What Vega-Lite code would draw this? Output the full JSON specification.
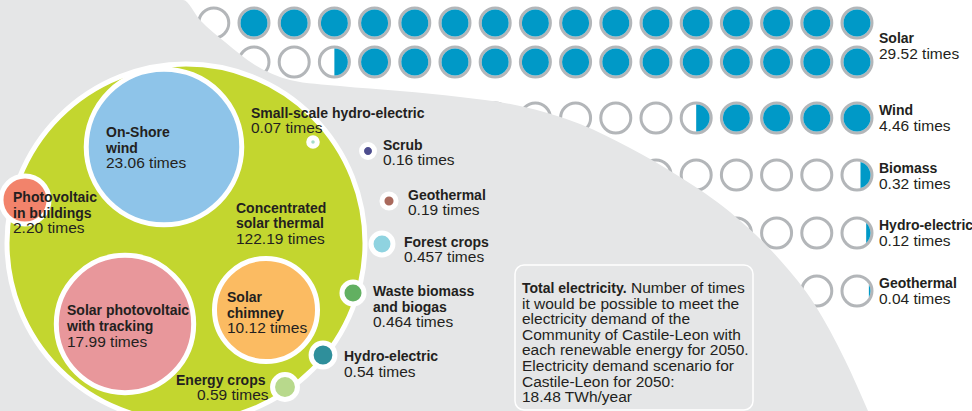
{
  "$schema": "https://vega.github.io/schema/vega-lite/v6.json",
  "width": 972,
  "height": 411,
  "autosize": {"type": "none"},
  "padding": 0,
  "background": "#ffffff",
  "config": {"view": {"stroke": null}},
  "datasets": {
    "grid": [
      {"r": "Solar1", "y": 23, "c": 0, "f": "full"}, {"r": "Solar1", "y": 23, "c": 1, "f": "full"}, {"r": "Solar1", "y": 23, "c": 2, "f": "full"}, {"r": "Solar1", "y": 23, "c": 3, "f": "full"}, {"r": "Solar1", "y": 23, "c": 4, "f": "full"}, {"r": "Solar1", "y": 23, "c": 5, "f": "full"}, {"r": "Solar1", "y": 23, "c": 6, "f": "full"}, {"r": "Solar1", "y": 23, "c": 7, "f": "full"}, {"r": "Solar1", "y": 23, "c": 8, "f": "full"}, {"r": "Solar1", "y": 23, "c": 9, "f": "full"}, {"r": "Solar1", "y": 23, "c": 10, "f": "full"}, {"r": "Solar1", "y": 23, "c": 11, "f": "full"}, {"r": "Solar1", "y": 23, "c": 12, "f": "full"}, {"r": "Solar1", "y": 23, "c": 13, "f": "full"}, {"r": "Solar1", "y": 23, "c": 14, "f": "full"}, {"r": "Solar1", "y": 23, "c": 15, "f": "full"}, {"r": "Solar1", "y": 23, "c": 16, "f": "none"},
      {"r": "Solar2", "y": 62, "c": 0, "f": "full"}, {"r": "Solar2", "y": 62, "c": 1, "f": "full"}, {"r": "Solar2", "y": 62, "c": 2, "f": "full"}, {"r": "Solar2", "y": 62, "c": 3, "f": "full"}, {"r": "Solar2", "y": 62, "c": 4, "f": "full"}, {"r": "Solar2", "y": 62, "c": 5, "f": "full"}, {"r": "Solar2", "y": 62, "c": 6, "f": "full"}, {"r": "Solar2", "y": 62, "c": 7, "f": "full"}, {"r": "Solar2", "y": 62, "c": 8, "f": "full"}, {"r": "Solar2", "y": 62, "c": 9, "f": "full"}, {"r": "Solar2", "y": 62, "c": 10, "f": "full"}, {"r": "Solar2", "y": 62, "c": 11, "f": "full"}, {"r": "Solar2", "y": 62, "c": 12, "f": "full"}, {"r": "Solar2", "y": 62, "c": 13, "f": "half"}, {"r": "Solar2", "y": 62, "c": 14, "f": "none"}, {"r": "Solar2", "y": 62, "c": 15, "f": "none"}, {"r": "Solar2", "y": 62, "c": 16, "f": "none"},
      {"r": "Wind", "y": 118, "c": 0, "f": "full"}, {"r": "Wind", "y": 118, "c": 1, "f": "full"}, {"r": "Wind", "y": 118, "c": 2, "f": "full"}, {"r": "Wind", "y": 118, "c": 3, "f": "full"}, {"r": "Wind", "y": 118, "c": 4, "f": "half"}, {"r": "Wind", "y": 118, "c": 5, "f": "none"}, {"r": "Wind", "y": 118, "c": 6, "f": "none"}, {"r": "Wind", "y": 118, "c": 7, "f": "none"}, {"r": "Wind", "y": 118, "c": 8, "f": "none"}, {"r": "Wind", "y": 118, "c": 9, "f": "none"}, {"r": "Wind", "y": 118, "c": 10, "f": "none"}, {"r": "Wind", "y": 118, "c": 11, "f": "none"}, {"r": "Wind", "y": 118, "c": 12, "f": "none"}, {"r": "Wind", "y": 118, "c": 13, "f": "none"}, {"r": "Wind", "y": 118, "c": 14, "f": "none"}, {"r": "Wind", "y": 118, "c": 15, "f": "none"}, {"r": "Wind", "y": 118, "c": 16, "f": "none"},
      {"r": "Biomass", "y": 175, "c": 0, "f": "f37"}, {"r": "Biomass", "y": 175, "c": 1, "f": "none"}, {"r": "Biomass", "y": 175, "c": 2, "f": "none"}, {"r": "Biomass", "y": 175, "c": 3, "f": "none"}, {"r": "Biomass", "y": 175, "c": 4, "f": "none"}, {"r": "Biomass", "y": 175, "c": 5, "f": "none"}, {"r": "Biomass", "y": 175, "c": 6, "f": "none"}, {"r": "Biomass", "y": 175, "c": 7, "f": "none"}, {"r": "Biomass", "y": 175, "c": 8, "f": "none"}, {"r": "Biomass", "y": 175, "c": 9, "f": "none"}, {"r": "Biomass", "y": 175, "c": 10, "f": "none"}, {"r": "Biomass", "y": 175, "c": 11, "f": "none"},
      {"r": "Hydro", "y": 233, "c": 0, "f": "f16"}, {"r": "Hydro", "y": 233, "c": 1, "f": "none"}, {"r": "Hydro", "y": 233, "c": 2, "f": "none"}, {"r": "Hydro", "y": 233, "c": 3, "f": "none"}, {"r": "Hydro", "y": 233, "c": 4, "f": "none"}, {"r": "Hydro", "y": 233, "c": 5, "f": "none"}, {"r": "Hydro", "y": 233, "c": 6, "f": "none"}, {"r": "Hydro", "y": 233, "c": 7, "f": "none"},
      {"r": "Geo", "y": 291, "c": 0, "f": "f06"}, {"r": "Geo", "y": 291, "c": 1, "f": "none"}, {"r": "Geo", "y": 291, "c": 2, "f": "none"}, {"r": "Geo", "y": 291, "c": 3, "f": "none"}, {"r": "Geo", "y": 291, "c": 4, "f": "none"}, {"r": "Geo", "y": 291, "c": 5, "f": "none"}
    ],
    "shape": [
      {"x": 0, "y": 0}, {"x": 183, "y": 0}, {"x": 200, "y": 20}, {"x": 225, "y": 42}, {"x": 255, "y": 65}, {"x": 290, "y": 80}, {"x": 340, "y": 86}, {"x": 400, "y": 91}, {"x": 460, "y": 97}, {"x": 520, "y": 106}, {"x": 580, "y": 124}, {"x": 630, "y": 148}, {"x": 680, "y": 177}, {"x": 730, "y": 212}, {"x": 780, "y": 260}, {"x": 815, "y": 305}, {"x": 845, "y": 360}, {"x": 868, "y": 411}
    ],
    "box": [{"x": 515, "x2": 753, "y": 265, "y2": 410}],
    "bubbles": [
      {"name": "Concentrated solar thermal", "value": 122.19, "x": 186, "y": 243},
      {"name": "On-Shore wind", "value": 23.06, "x": 164, "y": 147},
      {"name": "Solar photovoltaic with tracking", "value": 17.99, "x": 125, "y": 324},
      {"name": "Solar chimney", "value": 10.12, "x": 266, "y": 310},
      {"name": "Photovoltaic in buildings", "value": 2.2, "x": 25, "y": 200},
      {"name": "Small-scale hydro-electric", "value": 0.07, "x": 313, "y": 142},
      {"name": "Scrub", "value": 0.16, "x": 368, "y": 151},
      {"name": "Geothermal", "value": 0.19, "x": 389, "y": 201},
      {"name": "Forest crops", "value": 0.457, "x": 382, "y": 244},
      {"name": "Waste biomass and biogas", "value": 0.464, "x": 353, "y": 293},
      {"name": "Hydro-electric", "value": 0.54, "x": 323, "y": 355},
      {"name": "Energy crops", "value": 0.59, "x": 285, "y": 387}
    ],
    "labels": [
      {"t": "On-Shore", "x": 106, "y": 137, "b": 1}, {"t": "wind", "x": 106, "y": 153, "b": 1}, {"t": "23.06 times", "x": 106, "y": 168, "b": 0},
      {"t": "Photovoltaic", "x": 13, "y": 202, "b": 1}, {"t": "in buildings", "x": 13, "y": 218, "b": 1}, {"t": "2.20 times", "x": 13, "y": 233, "b": 0},
      {"t": "Concentrated", "x": 236, "y": 213, "b": 1}, {"t": "solar thermal", "x": 236, "y": 228, "b": 1}, {"t": "122.19 times", "x": 236, "y": 244, "b": 0},
      {"t": "Small-scale hydro-electric", "x": 251, "y": 118, "b": 1}, {"t": "0.07 times", "x": 251, "y": 133, "b": 0},
      {"t": "Scrub", "x": 383, "y": 150, "b": 1}, {"t": "0.16 times", "x": 383, "y": 165, "b": 0},
      {"t": "Geothermal", "x": 408, "y": 200, "b": 1}, {"t": "0.19 times", "x": 408, "y": 215, "b": 0},
      {"t": "Forest crops", "x": 404, "y": 247, "b": 1}, {"t": "0.457 times", "x": 404, "y": 262, "b": 0},
      {"t": "Waste biomass", "x": 373, "y": 296, "b": 1}, {"t": "and biogas", "x": 373, "y": 312, "b": 1}, {"t": "0.464 times", "x": 373, "y": 327, "b": 0},
      {"t": "Hydro-electric", "x": 344, "y": 361, "b": 1}, {"t": "0.54 times", "x": 344, "y": 377, "b": 0},
      {"t": "Solar photovoltaic", "x": 67, "y": 315, "b": 1}, {"t": "with tracking", "x": 67, "y": 331, "b": 1}, {"t": "17.99 times", "x": 67, "y": 347, "b": 0},
      {"t": "Solar", "x": 227, "y": 302, "b": 1}, {"t": "chimney", "x": 227, "y": 318, "b": 1}, {"t": "10.12 times", "x": 227, "y": 333, "b": 0},
      {"t": "Energy crops", "x": 176, "y": 385, "b": 1}, {"t": "0.59 times", "x": 197, "y": 400, "b": 0},
      {"t": "Solar", "x": 879, "y": 43, "b": 1}, {"t": "29.52 times", "x": 879, "y": 59, "b": 0},
      {"t": "Wind", "x": 879, "y": 115, "b": 1}, {"t": "4.46 times", "x": 879, "y": 131, "b": 0},
      {"t": "Biomass", "x": 879, "y": 173, "b": 1}, {"t": "0.32 times", "x": 879, "y": 189, "b": 0},
      {"t": "Hydro-electric", "x": 879, "y": 230, "b": 1}, {"t": "0.12 times", "x": 879, "y": 246, "b": 0},
      {"t": "Geothermal", "x": 879, "y": 288, "b": 1}, {"t": "0.04 times", "x": 879, "y": 304, "b": 0},
      {"t": "Total electricity.", "x": 522, "y": 293, "b": 1}, {"t": "Number of times", "x": 631, "y": 293, "b": 0},
      {"t": "it would be possible to meet the", "x": 522, "y": 308.6, "b": 0},
      {"t": "electricity demand of the", "x": 522, "y": 324.2, "b": 0},
      {"t": "Community of Castile-Leon with", "x": 522, "y": 339.8, "b": 0},
      {"t": "each renewable energy for 2050.", "x": 522, "y": 355.4, "b": 0},
      {"t": "Electricity demand scenario for", "x": 522, "y": 371, "b": 0},
      {"t": "Castile-Leon for 2050:", "x": 522, "y": 386.6, "b": 0},
      {"t": "18.48 TWh/year", "x": 522, "y": 402, "b": 0}
    ]
  },
  "resolve": {"scale": {"x": "independent", "y": "independent"}},
  "layer": [
    {
      "data": {"name": "grid"},
      "mark": {"type": "point", "shape": "circle", "size": 900, "filled": false, "fill": "#ffffff", "fillOpacity": 1, "stroke": "#b3b6b9", "strokeWidth": 3, "opacity": 1},
      "encoding": {
        "x": {"field": "c", "type": "quantitative", "scale": {"domain": [-2.861, 21.318], "reverse": true, "nice": false, "zero": false}, "axis": null},
        "y": {"field": "y", "type": "quantitative", "scale": {"domain": [0, 411], "reverse": true, "nice": false, "zero": false}, "axis": null}
      }
    },
    {
      "data": {"name": "grid"},
      "transform": [{"filter": "datum.f != 'none'"}],
      "mark": {"type": "point", "size": 729, "filled": true, "color": "#0099c7", "opacity": 1, "strokeWidth": 0},
      "encoding": {
        "x": {"field": "c", "type": "quantitative", "scale": {"domain": [-2.861, 21.318], "reverse": true, "nice": false, "zero": false}, "axis": null},
        "y": {"field": "y", "type": "quantitative", "scale": {"domain": [0, 411], "reverse": true, "nice": false, "zero": false}, "axis": null},
        "shape": {"field": "f", "type": "nominal", "legend": null, "scale": {"domain": ["full", "half", "f37", "f16", "f06"], "range": ["circle", "M 0 -1 A 1 1 0 0 1 0 1 Z", "M 0.26 -0.966 A 1 1 0 0 1 0.26 0.966 Z", "M 0.68 -0.733 A 1 1 0 0 1 0.68 0.733 Z", "M 0.88 -0.475 A 1 1 0 0 1 0.88 0.475 Z"]}}
      }
    },
    {
      "data": {"name": "shape"},
      "mark": {"type": "area", "color": "#e5e6e7", "interpolate": "monotone", "opacity": 1},
      "encoding": {
        "x": {"field": "x", "type": "quantitative", "scale": {"domain": [0, 972], "nice": false, "zero": false}, "axis": null},
        "y": {"field": "y", "type": "quantitative", "scale": {"domain": [0, 411], "reverse": true, "nice": false, "zero": false}, "axis": null},
        "y2": {"datum": 411}
      }
    },
    {
      "data": {"name": "box"},
      "mark": {"type": "rect", "fill": "#e5e6e7", "stroke": "#ffffff", "strokeWidth": 1.5, "cornerRadius": 9},
      "encoding": {
        "x": {"field": "x", "type": "quantitative", "scale": {"domain": [0, 972], "nice": false, "zero": false}, "axis": null},
        "x2": {"field": "x2"},
        "y": {"field": "y", "type": "quantitative", "scale": {"domain": [0, 411], "reverse": true, "nice": false, "zero": false}, "axis": null},
        "y2": {"field": "y2"}
      }
    },
    {
      "data": {"name": "bubbles"},
      "mark": {"type": "point", "shape": "circle", "filled": true, "opacity": 1, "stroke": "#ffffff", "strokeWidth": 5, "strokeOpacity": 1},
      "encoding": {
        "x": {"field": "x", "type": "quantitative", "scale": {"domain": [0, 972], "nice": false, "zero": false}, "axis": null},
        "y": {"field": "y", "type": "quantitative", "scale": {"domain": [0, 411], "reverse": true, "nice": false, "zero": false}, "axis": null},
        "size": {"field": "value", "type": "quantitative", "legend": null, "scale": {"type": "linear", "domain": [0, 122.19], "range": [0, 128164], "zero": true}},
        "fill": {"field": "name", "type": "nominal", "legend": null, "scale": {
          "domain": ["Concentrated solar thermal", "On-Shore wind", "Solar photovoltaic with tracking", "Solar chimney", "Photovoltaic in buildings", "Small-scale hydro-electric", "Scrub", "Geothermal", "Forest crops", "Waste biomass and biogas", "Hydro-electric", "Energy crops"],
          "range": ["#c3d62f", "#8ec4e9", "#e8979b", "#fbbb62", "#f2836b", "#a5dcc8", "#4d4d8e", "#a9695c", "#8fd3e0", "#62b061", "#2f8f9b", "#b8d98c"]}},
        "order": {"field": "value", "sort": "descending"}
      }
    },
    {
      "data": {"name": "labels"},
      "transform": [{"filter": "datum.b == 1"}],
      "mark": {"type": "text", "align": "left", "baseline": "alphabetic", "font": "Liberation Sans", "fontWeight": "bold", "fontSize": 14, "color": "#231f20"},
      "encoding": {
        "x": {"field": "x", "type": "quantitative", "scale": {"domain": [0, 972], "nice": false, "zero": false}, "axis": null},
        "y": {"field": "y", "type": "quantitative", "scale": {"domain": [0, 411], "reverse": true, "nice": false, "zero": false}, "axis": null},
        "text": {"field": "t", "type": "nominal"}
      }
    },
    {
      "data": {"name": "labels"},
      "transform": [{"filter": "datum.b == 0"}],
      "mark": {"type": "text", "align": "left", "baseline": "alphabetic", "font": "Liberation Sans", "fontWeight": "normal", "fontSize": 15.5, "color": "#231f20"},
      "encoding": {
        "x": {"field": "x", "type": "quantitative", "scale": {"domain": [0, 972], "nice": false, "zero": false}, "axis": null},
        "y": {"field": "y", "type": "quantitative", "scale": {"domain": [0, 411], "reverse": true, "nice": false, "zero": false}, "axis": null},
        "text": {"field": "t", "type": "nominal"}
      }
    }
  ]
}
